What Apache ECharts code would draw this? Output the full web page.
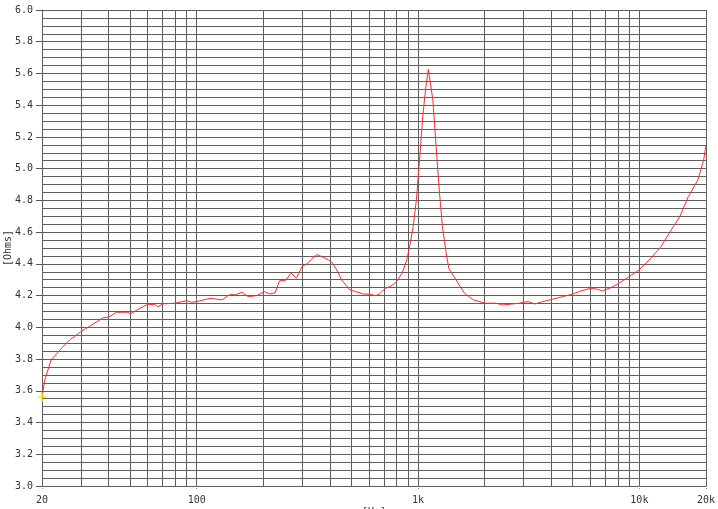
<!DOCTYPE html>
<html>
<head>
<meta charset="utf-8">
<script src="https://cdn.jsdelivr.net/npm/echarts@6/dist/echarts.min.js"></script>
<style>
html,body{margin:0;padding:0;background:#fff;}
#chart{width:718px;height:509px;}
</style>
</head>
<body>
<div id="chart"></div>
<script>
// Frequency (Hz) and impedance (Ohms)
var freqHz = [20,20.6,22,24.5,26.7,30,34,37.8,40,43.4,48.9,50,54.5,60.2,65.3,66.8,70.4,80,90,95,100,115,130,142,149,160,171,187,202,214,226,237,251,267,282,299,315,333,349,368,394,408,429,451,492,523,564,604,643,668,711,748,794,847,890,919,951,983,1016,1050,1085,1113,1167,1207,1247,1289,1333,1377,1485,1620,1782,2010,2250,2415,2620,2860,3140,3370,3650,4050,4490,4980,5430,6030,6460,6800,7430,8100,8850,9970,11270,12530,13930,15230,16640,18390,19520,20000];
var ohms = [3.56,3.67,3.795,3.868,3.921,3.973,4.02,4.061,4.064,4.095,4.095,4.085,4.114,4.146,4.141,4.13,4.148,4.152,4.168,4.158,4.162,4.183,4.173,4.209,4.204,4.221,4.193,4.20,4.225,4.21,4.218,4.294,4.294,4.341,4.309,4.383,4.40,4.435,4.458,4.446,4.425,4.41,4.362,4.30,4.236,4.225,4.21,4.209,4.20,4.209,4.246,4.257,4.282,4.341,4.425,4.519,4.635,4.803,5.055,5.328,5.517,5.626,5.433,5.139,4.866,4.635,4.488,4.372,4.299,4.215,4.173,4.152,4.152,4.141,4.146,4.152,4.162,4.147,4.162,4.177,4.193,4.209,4.229,4.246,4.24,4.229,4.25,4.278,4.313,4.362,4.435,4.509,4.614,4.698,4.824,4.929,5.055,5.149];
// Minor log gridline positions (Hz)
var minorFreqs = [30,40,50,60,70,80,90,200,300,400,500,600,700,800,900,2000,3000,4000,5000,6000,7000,8000,9000];
var xMin = 20, xMax = 20000, yMin = 3.0, yMax = 6.0;

var data = freqHz.map(function(f,i){return [f, ohms[i]];});
var gridColor = '#5e5e5e';
var fontFam = '"DejaVu Sans Mono", monospace';

var chart = echarts.init(document.getElementById('chart'));
chart.setOption({
  animation: false,
  backgroundColor: '#ffffff',
  grid: {left: 42, right: 12, top: 10, bottom: 23, containLabel: false, outerBoundsMode: 'none'},
  xAxis: {
    type: 'log', logBase: 10, min: xMin, max: xMax,
    name: '[Hz]', nameLocation: 'middle', nameGap: 21, nameMoveOverlap: false,
    nameTextStyle: {color: '#333', fontSize: 10, fontFamily: fontFam},
    axisLine: {show: true, lineStyle: {color: gridColor, width: 1}},
    axisTick: {show: true, inside: false, length: 4, lineStyle: {color: '#888', type: 'dotted'}},
    axisLabel: {
      color: '#333', fontSize: 10, fontFamily: fontFam, margin: 9,
      showMinLabel: true, showMaxLabel: true,
      formatter: function(v){ v = Math.round(v); return v >= 1000 ? (v/1000) + 'k' : String(v); }
    },
    splitLine: {show: true, lineStyle: {color: gridColor, width: 1}},
    minorTick: {show: false}
  },
  yAxis: {
    type: 'value', min: yMin, max: yMax, interval: 0.2,
    name: '[Ohms]', nameLocation: 'middle', nameGap: 29, nameRotate: 90, nameMoveOverlap: false,
    nameTextStyle: {color: '#333', fontSize: 10, fontFamily: fontFam},
    axisLine: {show: true, lineStyle: {color: gridColor, width: 1}},
    axisTick: {show: true, inside: false, length: 6, lineStyle: {color: '#555'}},
    axisLabel: {color: '#333', fontSize: 10, fontFamily: fontFam, margin: 9,
      formatter: function(v){ return v.toFixed(1); }},
    splitLine: {show: true, lineStyle: {color: gridColor, width: 1}},
    minorTick: {show: false, splitNumber: 4},
    minorSplitLine: {show: true, lineStyle: {color: gridColor, width: 1}}
  },
  series: [
    {
      type: 'line', z: 1, silent: true,
      data: [[xMin, yMin], [xMax, yMin]],
      showSymbol: false, symbol: 'none',
      lineStyle: {width: 0, opacity: 0},
      markLine: {
        silent: true, symbol: ['none','none'], animation: false,
        label: {show: false},
        lineStyle: {color: gridColor, width: 1, type: 'solid'},
        data: minorFreqs.map(function(f){ return {xAxis: f}; })
      }
    },
    {
      type: 'line', z: 5,
      data: data,
      showSymbol: false, symbol: 'none', smooth: false,
      lineStyle: {color: '#ff2a2a', width: 1}
    },
    {
      type: 'scatter', z: 6, silent: true,
      data: [data[0]],
      symbol: 'path://M4,0h2v4h4v2h-4v4h-2v-4h-4v-2h4z',
      symbolSize: 9,
      itemStyle: {color: '#f2e600'}
    }
  ]
});
</script>
</body>
</html>
